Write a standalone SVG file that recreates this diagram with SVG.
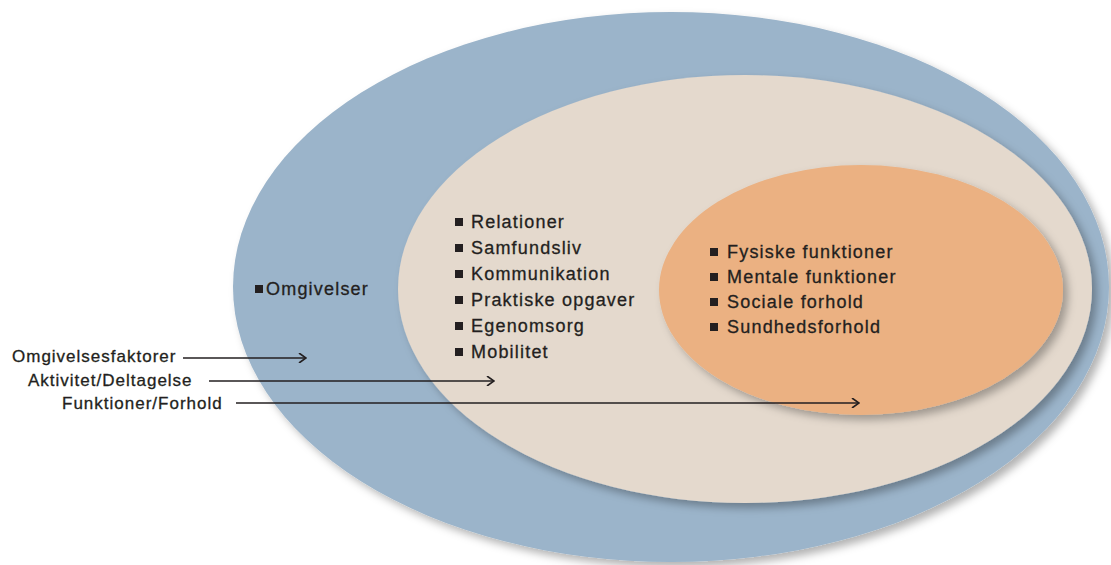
<svg xmlns="http://www.w3.org/2000/svg" width="1111" height="565" viewBox="0 0 1111 565">
<defs>
<style>
text{font-family:"Liberation Sans",Arial,sans-serif;font-size:18px;letter-spacing:1.2px;fill:#231f20;stroke:#231f20;stroke-width:0.3;}
.lbl{font-size:17px;letter-spacing:1px;}
.b{fill:#231f20;}
.conn{stroke:#231f20;stroke-width:1.6;fill:none;marker-end:url(#arr);}
</style>
<filter id="sh" x="-10%" y="-10%" width="125%" height="125%">
<feDropShadow dx="5" dy="5" stdDeviation="4" flood-color="#000" flood-opacity="0.3"/>
</filter>
<marker id="arr" viewBox="0 0 10 10" refX="9" refY="5" markerWidth="10" markerHeight="10" markerUnits="userSpaceOnUse" orient="auto">
<path d="M2,0 L9,5 L2,10" fill="none" stroke="#231f20" stroke-width="1.6"/>
</marker>
</defs>
<rect width="1111" height="565" fill="#fff"/>
<g id="outer">
<ellipse cx="671" cy="287" rx="438" ry="275" fill="#9bb4ca" filter="url(#sh)"/>
<rect class="b" x="255" y="285" width="8" height="8"/>
<text x="266" y="295">Omgivelser</text>
</g>
<g id="middle">
<ellipse cx="745" cy="289" rx="347" ry="214" fill="#e4d9cd" filter="url(#sh)"/>
<rect class="b" x="455" y="218" width="8" height="8"/>
<text x="471" y="228">Relationer</text>
<rect class="b" x="455" y="244" width="8" height="8"/>
<text x="471" y="254">Samfundsliv</text>
<rect class="b" x="455" y="270" width="8" height="8"/>
<text x="471" y="280">Kommunikation</text>
<rect class="b" x="455" y="296" width="8" height="8"/>
<text x="471" y="306">Praktiske opgaver</text>
<rect class="b" x="455" y="322" width="8" height="8"/>
<text x="471" y="332">Egenomsorg</text>
<rect class="b" x="455" y="348" width="8" height="8"/>
<text x="471" y="358">Mobilitet</text>
</g>
<g id="inner">
<ellipse cx="861" cy="290" rx="202" ry="125" fill="#ebb182" filter="url(#sh)"/>
<rect class="b" x="710" y="248" width="8" height="8"/>
<text x="727" y="258">Fysiske funktioner</text>
<rect class="b" x="710" y="273" width="8" height="8"/>
<text x="727" y="283">Mentale funktioner</text>
<rect class="b" x="710" y="298" width="8" height="8"/>
<text x="727" y="308">Sociale forhold</text>
<rect class="b" x="710" y="323" width="8" height="8"/>
<text x="727" y="333">Sundhedsforhold</text>
</g>
<g id="labels">
<text class="lbl" x="12" y="362">Omgivelsesfaktorer</text>
<text class="lbl" x="28" y="386">Aktivitet/Deltagelse</text>
<text class="lbl" x="62" y="409">Funktioner/Forhold</text>
</g>
<g id="connectors">
<line class="conn" x1="183" y1="358" x2="306" y2="358"/>
<line class="conn" x1="209" y1="381" x2="494" y2="381"/>
<line class="conn" x1="236" y1="403" x2="859" y2="403"/>
</g>
</svg>
